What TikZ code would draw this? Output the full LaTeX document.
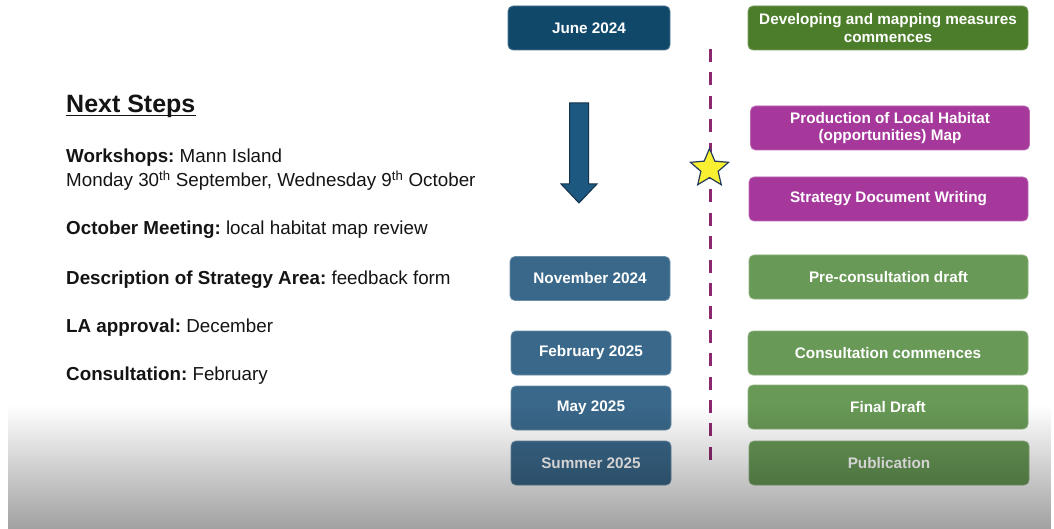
\documentclass[tikz,border=0pt]{standalone}
\usepackage{fontspec}
\setmainfont{Liberation Sans}
\usetikzlibrary{shapes.geometric,fadings}
\frenchspacing
\definecolor{junec}{RGB}{16,72,106}
\definecolor{datec}{RGB}{58,104,138}
\definecolor{devc}{RGB}{76,125,43}
\definecolor{magc}{RGB}{166,56,156}
\definecolor{lgreen}{RGB}{104,153,86}
\definecolor{dashc}{RGB}{140,40,110}
\definecolor{arrowc}{RGB}{28,88,128}
\definecolor{arrowd}{RGB}{22,50,72}
\definecolor{stary}{RGB}{250,240,50}
\definecolor{stard}{RGB}{35,60,90}
\definecolor{txt}{RGB}{20,20,20}
\tikzfading[name=fadeup, top color=transparent!100, bottom color=transparent!0]
\tikzset{
  tbox/.style={rounded corners=5pt, minimum height=44pt, inner sep=0pt,
    text=white, align=center, line width=0.8pt,
    font=\bfseries\fontsize{15.3}{17.5}\selectfont},
  datebox/.style={tbox, minimum width=160pt, fill=datec, draw=datec!75!white},
  actbox/.style={tbox, minimum width=280pt},
  greenbox/.style={actbox, fill=lgreen, draw=lgreen!75!white},
  magbox/.style={actbox, fill=magc, draw=magc!75!white},
  lefttext/.style={anchor=base west, inner sep=0pt, text=txt,
    font=\fontsize{18.8}{22}\selectfont},
}
\begin{document}
\begin{tikzpicture}[x=1pt,y=-1pt]
\useasboundingbox (0,0) rectangle (1054,529);
\fill[white] (0,0) rectangle (1054,529);

% left text
\node[anchor=base west, inner sep=0pt, text=txt, font=\bfseries\fontsize{25}{30}\selectfont] (ns) at (66,113) {Next Steps};
\draw[txt, line width=1.4pt] ([yshift=-2.5pt]ns.base west) -- ([yshift=-2.5pt]ns.base east);
\node[lefttext] (w1) at (66,163) {\textbf{Workshops:} Mann Island};
\node[lefttext] (w2) at (66,187) {Monday 30\textsuperscript{th} September, Wednesday 9\textsuperscript{th} October};
\node[lefttext] (om) at (66,235) {\textbf{October Meeting:} local habitat map review};
\node[lefttext] (ds) at (66,284) {\textbf{Description of Strategy Area:} feedback form};
\node[lefttext] (la) at (66,332) {\textbf{LA approval:} December};
\node[lefttext] (co) at (66,380) {\textbf{Consultation:} February};

% date boxes
\node[datebox, fill=junec, draw=junec!75!white, minimum width=162pt] (june) at (589,28) {June 2024};
\node[datebox] (nov) at (590,278.5) {November 2024};
\node[datebox] (feb) at (591,353) {February 2025};
\node[datebox] (may) at (591,408) {May 2025};
\node[datebox] (sum) at (591,463) {Summer 2025};

% down arrow
\draw[fill=arrowc, draw=arrowd, line width=1pt, line join=miter]
  (569.5,103) -- (588.5,103) -- (588.5,184) -- (597,184) -- (579,203)
  -- (561,184) -- (569.5,184) -- cycle;

% dashed line and star
\coordinate (dtop) at (710,49);
\coordinate (dbot) at (710,460);
\draw[dashc, line width=3pt, dash pattern=on 13pt off 10.4pt] (dtop) -- (dbot);
\node[star, star points=5, star point ratio=2.2, minimum size=40pt, inner sep=0pt,
  fill=stary, draw=stard, line width=1.2pt] (star) at (709.5,168.5) {};

% activity boxes
\node[actbox, fill=devc, draw=devc!75!white] (dev) at (888,28) {Developing and mapping measures\\commences};
\node[magbox, minimum width=279pt] (prod) at (890,128) {Production of Local Habitat\\(opportunities) Map};
\node[magbox, minimum width=279pt] (strat) at (888.5,199) {Strategy Document Writing};
\node[greenbox, minimum width=279pt] (pre) at (888.5,277) {Pre-consultation draft};
\node[greenbox] (cons) at (888,353) {Consultation commences};
\node[greenbox] (fin) at (888,407) {Final Draft};
\node[greenbox] (pub) at (889,463) {Publication};

% bottom grey overlay
\begin{scope}
\clip (8,0) rectangle (1054,529);
\fill[black, fill opacity=0.42, path fading=fadeup] (8,405) rectangle (1054,545);
\end{scope}
\end{tikzpicture}
\end{document}
